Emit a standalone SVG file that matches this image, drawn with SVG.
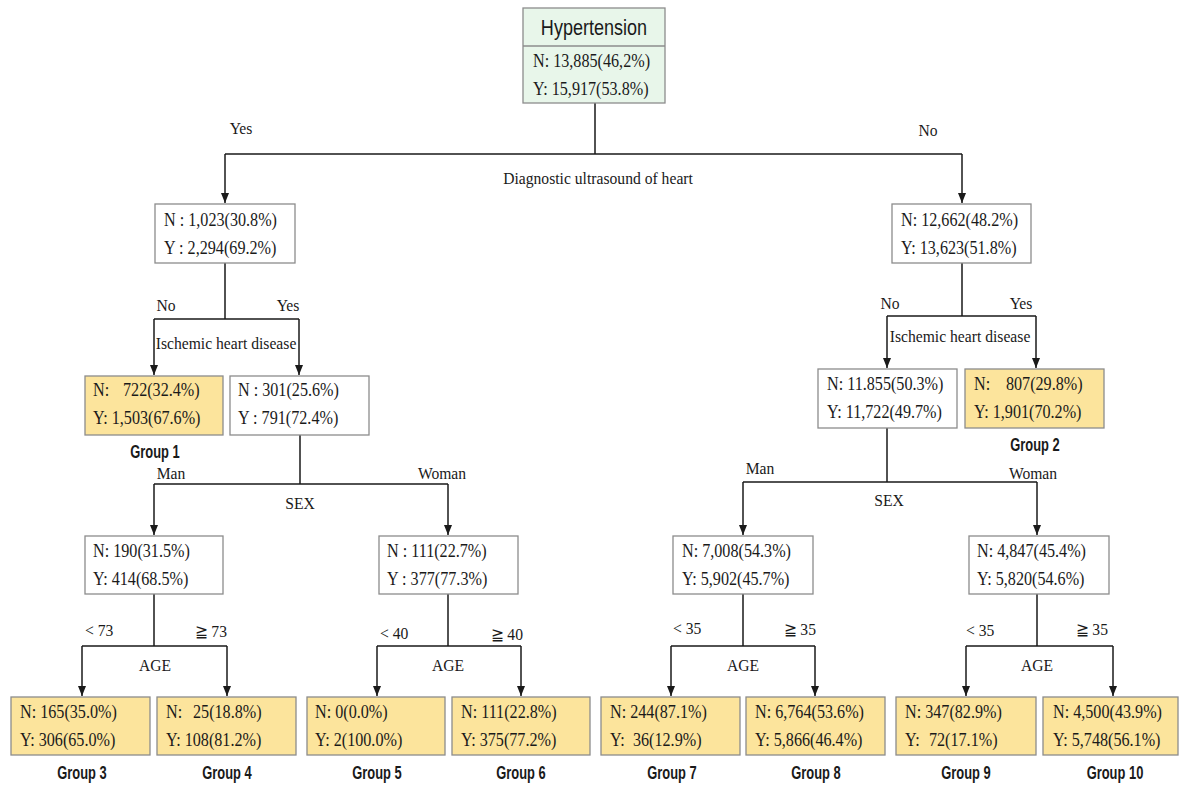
<svg xmlns="http://www.w3.org/2000/svg" width="1179" height="786" viewBox="0 0 1179 786">
<style>
.box{fill:#fff;stroke:#8c8c8c;stroke-width:1.3}
.leaf{fill:#fce49c;stroke:#8c8c8c;stroke-width:1.3}
.root{fill:#e8f6ea;stroke:#8c8c8c;stroke-width:1.3}
.v{font-family:"Liberation Serif",serif;font-size:19px;fill:#1a1a1a}
.l{font-family:"Liberation Serif",serif;font-size:17px;fill:#1a1a1a}
.c{text-anchor:middle}
.g{font-family:"Liberation Sans",sans-serif;font-size:19px;font-weight:bold;fill:#1a1a1a;text-anchor:middle}
.h{font-family:"Liberation Sans",sans-serif;font-size:22px;fill:#1a1a1a;text-anchor:middle}
.ln{fill:none;stroke:#1a1a1a;stroke-width:1.5}
.ar{fill:none;stroke:#1a1a1a;stroke-width:1.5;marker-end:url(#ah)}
</style>
<defs>
<marker id="ah" viewBox="0 0 10 8" refX="10" refY="4" markerWidth="10" markerHeight="8" orient="auto" markerUnits="userSpaceOnUse"><path d="M0,0 L10,4 L0,8 z" fill="#1a1a1a"/></marker>
</defs>
<rect width="1179" height="786" fill="#fff"/>

<g id="connectors">
<path class="ln" d="M595,103 V154 M225,154 H962"/>
<path class="ar" d="M225,154 V203"/>
<path class="ar" d="M962,154 V203"/>
<path class="ln" d="M225,263 V319 M154,319 H299"/>
<path class="ar" d="M154,319 V375"/>
<path class="ar" d="M299,319 V375"/>
<path class="ln" d="M300,435 V484 M154,484 H448"/>
<path class="ar" d="M154,484 V535"/>
<path class="ar" d="M448,484 V535"/>
<path class="ln" d="M154,594 V646 M82,646 H227"/>
<path class="ar" d="M82,646 V696"/>
<path class="ar" d="M227,646 V696"/>
<path class="ln" d="M448,594 V646 M377,646 H521"/>
<path class="ar" d="M377,646 V696"/>
<path class="ar" d="M521,646 V696"/>
<path class="ln" d="M962,263 V316 M887,316 H1036"/>
<path class="ar" d="M887,316 V368"/>
<path class="ar" d="M1036,316 V368"/>
<path class="ln" d="M887,428 V482 M743,482 H1037"/>
<path class="ar" d="M743,482 V535"/>
<path class="ar" d="M1037,482 V535"/>
<path class="ln" d="M743,594 V646 M671,646 H815"/>
<path class="ar" d="M671,646 V696"/>
<path class="ar" d="M815,646 V696"/>
<path class="ln" d="M1037,594 V646 M966,646 H1113"/>
<path class="ar" d="M966,646 V696"/>
<path class="ar" d="M1113,646 V696"/>
</g>

<g id="labels">
<text class="l c" transform="translate(241,134) scale(.92,1)">Yes</text>
<text class="l c" transform="translate(928,136) scale(.92,1)">No</text>
<text class="l c" transform="translate(598,184) scale(.92,1)">Diagnostic ultrasound of heart</text>
<text class="l c" transform="translate(166,311) scale(.92,1)">No</text>
<text class="l c" transform="translate(288,311) scale(.92,1)">Yes</text>
<text class="l c" transform="translate(226,349) scale(.92,1)">Ischemic heart disease</text>
<text class="l c" transform="translate(890,309) scale(.92,1)">No</text>
<text class="l c" transform="translate(1021,309) scale(.92,1)">Yes</text>
<text class="l c" transform="translate(960,342) scale(.92,1)">Ischemic heart disease</text>
<text class="l c" transform="translate(171,479) scale(.92,1)">Man</text>
<text class="l c" transform="translate(442,479) scale(.92,1)">Woman</text>
<text class="l c" transform="translate(300,509) scale(.92,1)">SEX</text>
<text class="l c" transform="translate(760,474) scale(.92,1)">Man</text>
<text class="l c" transform="translate(1033,479) scale(.92,1)">Woman</text>
<text class="l c" transform="translate(889,506) scale(.92,1)">SEX</text>
<text class="l" transform="translate(85,636) scale(.92,1)">&lt; 73</text>
<text class="l" transform="translate(195,637) scale(.92,1)">≧ 73</text>
<text class="l c" transform="translate(155,671) scale(.92,1)">AGE</text>
<text class="l" transform="translate(380,639) scale(.92,1)">&lt; 40</text>
<text class="l" transform="translate(491,640) scale(.92,1)">≧ 40</text>
<text class="l c" transform="translate(448,671) scale(.92,1)">AGE</text>
<text class="l" transform="translate(673,634) scale(.92,1)">&lt; 35</text>
<text class="l" transform="translate(784,635) scale(.92,1)">≧ 35</text>
<text class="l c" transform="translate(743,671) scale(.92,1)">AGE</text>
<text class="l" transform="translate(966,636) scale(.92,1)">&lt; 35</text>
<text class="l" transform="translate(1076,635) scale(.92,1)">≧ 35</text>
<text class="l c" transform="translate(1037,671) scale(.92,1)">AGE</text>
</g>

<g id="root">
<rect class="root" x="523" y="8" width="142" height="95"/>
<line x1="523" y1="46" x2="665" y2="46" stroke="#8c8c8c" stroke-width="1.3"/>
<text class="h" transform="translate(594,35) scale(.82,1)">Hypertension</text>
<text class="v" transform="translate(533,67) scale(.85,1)">N: 13,885(46,2%)</text>
<text class="v" transform="translate(533,95) scale(.85,1)">Y: 15,917(53.8%)</text>
</g>

<g id="L1">
<rect class="box" x="155" y="204" width="140" height="59"/>
<text class="v" transform="translate(164,226) scale(.85,1)">N : 1,023(30.8%)</text>
<text class="v" transform="translate(164,254) scale(.85,1)">Y : 2,294(69.2%)</text>
</g>

<g id="G1">
<rect class="leaf" x="85" y="376" width="138" height="59"/>
<text class="v" transform="translate(93,396) scale(.85,1)">N:<tspan x="35.3">722(32.4%)</tspan></text>
<text class="v" transform="translate(93,424) scale(.85,1)">Y: 1,503(67.6%)</text>
<text class="g" transform="translate(155,458) scale(.68,1)">Group 1</text>
</g>

<g id="L2">
<rect class="box" x="230" y="376" width="139" height="59"/>
<text class="v" transform="translate(238,396) scale(.85,1)">N : 301(25.6%)</text>
<text class="v" transform="translate(238,424) scale(.85,1)">Y : 791(72.4%)</text>
</g>

<g id="L3">
<rect class="box" x="85" y="536" width="138" height="58"/>
<text class="v" transform="translate(93,557) scale(.85,1)">N: 190(31.5%)</text>
<text class="v" transform="translate(93,585) scale(.85,1)">Y: 414(68.5%)</text>
</g>

<g id="L4">
<rect class="box" x="379" y="536" width="139" height="58"/>
<text class="v" transform="translate(387,557) scale(.85,1)">N : 111(22.7%)</text>
<text class="v" transform="translate(387,585) scale(.85,1)">Y : 377(77.3%)</text>
</g>

<g id="G3">
<rect class="leaf" x="11" y="697" width="139" height="58"/>
<text class="v" transform="translate(20,718) scale(.85,1)">N: 165(35.0%)</text>
<text class="v" transform="translate(20,746) scale(.85,1)">Y: 306(65.0%)</text>
<text class="g" transform="translate(82,779) scale(.68,1)">Group 3</text>
</g>

<g id="G4">
<rect class="leaf" x="157" y="697" width="139" height="58"/>
<text class="v" transform="translate(166,718) scale(.85,1)">N:<tspan x="31.8">25(18.8%)</tspan></text>
<text class="v" transform="translate(166,746) scale(.85,1)">Y: 108(81.2%)</text>
<text class="g" transform="translate(227,779) scale(.68,1)">Group 4</text>
</g>

<g id="G5">
<rect class="leaf" x="307" y="697" width="138" height="58"/>
<text class="v" transform="translate(315,718) scale(.85,1)">N: 0(0.0%)</text>
<text class="v" transform="translate(315,746) scale(.85,1)">Y: 2(100.0%)</text>
<text class="g" transform="translate(377,779) scale(.68,1)">Group 5</text>
</g>

<g id="G6">
<rect class="leaf" x="452" y="697" width="138" height="58"/>
<text class="v" transform="translate(461,718) scale(.85,1)">N: 111(22.8%)</text>
<text class="v" transform="translate(461,746) scale(.85,1)">Y: 375(77.2%)</text>
<text class="g" transform="translate(521,779) scale(.68,1)">Group 6</text>
</g>

<g id="R1">
<rect class="box" x="892" y="204" width="139" height="59"/>
<text class="v" transform="translate(901,226) scale(.85,1)">N: 12,662(48.2%)</text>
<text class="v" transform="translate(901,254) scale(.85,1)">Y: 13,623(51.8%)</text>
</g>

<g id="R2">
<rect class="box" x="818" y="369" width="139" height="59"/>
<text class="v" transform="translate(827,390) scale(.85,1)">N: 11.855(50.3%)</text>
<text class="v" transform="translate(827,418) scale(.85,1)">Y: 11,722(49.7%)</text>
</g>

<g id="G2">
<rect class="leaf" x="965" y="369" width="139" height="59"/>
<text class="v" transform="translate(974,390) scale(.85,1)">N:<tspan x="37.6">807(29.8%)</tspan></text>
<text class="v" transform="translate(974,418) scale(.85,1)">Y: 1,901(70.2%)</text>
<text class="g" transform="translate(1035,451) scale(.68,1)">Group 2</text>
</g>

<g id="R3">
<rect class="box" x="673" y="536" width="140" height="58"/>
<text class="v" transform="translate(682,557) scale(.85,1)">N: 7,008(54.3%)</text>
<text class="v" transform="translate(682,585) scale(.85,1)">Y: 5,902(45.7%)</text>
</g>

<g id="R4">
<rect class="box" x="969" y="536" width="140" height="58"/>
<text class="v" transform="translate(977,557) scale(.85,1)">N: 4,847(45.4%)</text>
<text class="v" transform="translate(977,585) scale(.85,1)">Y: 5,820(54.6%)</text>
</g>

<g id="G7">
<rect class="leaf" x="601" y="697" width="139" height="58"/>
<text class="v" transform="translate(610,718) scale(.85,1)">N: 244(87.1%)</text>
<text class="v" transform="translate(610,746) scale(.85,1)">Y:<tspan x="27">36(12.9%)</tspan></text>
<text class="g" transform="translate(672,779) scale(.68,1)">Group 7</text>
</g>

<g id="G8">
<rect class="leaf" x="746" y="697" width="139" height="58"/>
<text class="v" transform="translate(755,718) scale(.85,1)">N: 6,764(53.6%)</text>
<text class="v" transform="translate(755,746) scale(.85,1)">Y: 5,866(46.4%)</text>
<text class="g" transform="translate(816,779) scale(.68,1)">Group 8</text>
</g>

<g id="G9">
<rect class="leaf" x="896" y="697" width="140" height="58"/>
<text class="v" transform="translate(905,718) scale(.85,1)">N: 347(82.9%)</text>
<text class="v" transform="translate(905,746) scale(.85,1)">Y:<tspan x="28.2">72(17.1%)</tspan></text>
<text class="g" transform="translate(966,779) scale(.68,1)">Group 9</text>
</g>

<g id="G10">
<rect class="leaf" x="1043" y="697" width="135" height="58"/>
<text class="v" transform="translate(1053,718) scale(.85,1)">N: 4,500(43.9%)</text>
<text class="v" transform="translate(1053,746) scale(.85,1)">Y: 5,748(56.1%)</text>
<text class="g" transform="translate(1115,779) scale(.68,1)">Group 10</text>
</g>
</svg>
